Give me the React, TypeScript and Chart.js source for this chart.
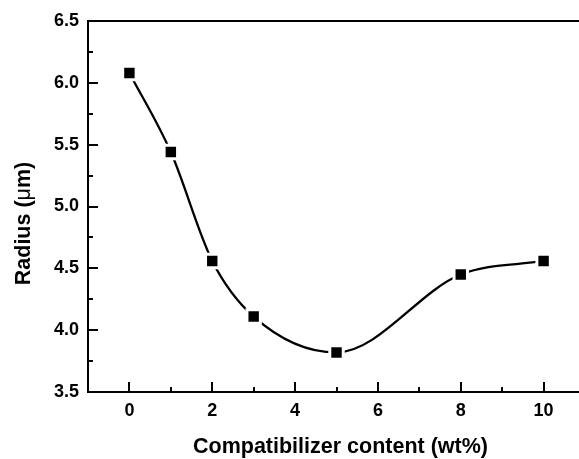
import React, { useEffect, useRef } from "react";
import { Chart, registerables } from "chart.js";

Chart.register(...registerables);

const contents = [0, 1, 2, 3, 5, 8, 10];
const radii = [6.08, 5.44, 4.56, 4.11, 3.82, 4.45, 4.56];
const xTitle = "Compatibilizer content (wt%)";
const yTitleParts = ["Radius (", "\u03bc", "m)"];

const FONT = "'Liberation Sans', Arial, Helvetica, sans-serif";

const framePlugin = {
  id: "frame",
  afterDraw(chart: any) {
    const { ctx, chartArea: a, scales } = chart;
    ctx.save();
    ctx.strokeStyle = "#000";
    ctx.lineWidth = 2;
    ctx.strokeRect(a.left, a.top, a.right - a.left, a.bottom - a.top);
    const ys = scales.y;
    ys.ticks.forEach((t: any) => {
      const v = t.value;
      if (v <= ys.min || v >= ys.max) return;
      const major = Math.abs(v * 2 - Math.round(v * 2)) < 1e-6;
      const len = major ? 10 : 5;
      const p = Math.round(ys.getPixelForValue(v));
      ctx.beginPath();
      ctx.moveTo(a.left, p);
      ctx.lineTo(a.left + len, p);
      ctx.stroke();
    });
    const xs = scales.x;
    xs.ticks.forEach((t: any) => {
      const v = t.value;
      if (v <= xs.min || v >= xs.max) return;
      const major = v % 2 === 0;
      const len = major ? 10 : 5;
      const p = Math.round(xs.getPixelForValue(v));
      ctx.beginPath();
      ctx.moveTo(p, a.bottom);
      ctx.lineTo(p, a.bottom - len);
      ctx.stroke();
    });
    // axis titles
    ctx.fillStyle = "#000";
    ctx.font = `bold 21.5px ${FONT}`;
    ctx.textAlign = "center";
    ctx.textBaseline = "alphabetic";
    ctx.fillText(xTitle, (a.left + a.right) / 2 + 4, a.bottom + 61);

    ctx.translate(a.left - 58, (a.top + a.bottom) / 2 + 17);
    ctx.rotate(-Math.PI / 2);
    const fonts = [`bold 21.5px ${FONT}`, `21.5px ${FONT}`, `bold 21.5px ${FONT}`];
    let total = 0;
    const widths = yTitleParts.map((s, i) => {
      ctx.font = fonts[i];
      const w = ctx.measureText(s).width;
      total += w;
      return w;
    });
    let x = -total / 2;
    ctx.textAlign = "left";
    yTitleParts.forEach((s, i) => {
      ctx.font = fonts[i];
      ctx.fillText(s, x, 0);
      x += widths[i];
    });
    ctx.restore();
  },
};

export default function App() {
  const ref = useRef<HTMLCanvasElement>(null);
  useEffect(() => {
    if (!ref.current) return;
    const chart = new Chart(ref.current, {
      type: "line",
      data: {
        datasets: [
          {
            data: contents.map((c, i) => ({ x: c, y: radii[i] })),
            borderColor: "#000",
            borderWidth: 2.3,
            cubicInterpolationMode: "monotone",
            pointStyle: "rect",
            pointRadius: 9.5,
            pointBackgroundColor: "#000",
            pointBorderColor: "#fff",
            pointBorderWidth: 3,
            fill: false,
          },
        ],
      },
      options: {
        animation: false,
        responsive: false,
        events: [],
        layout: { padding: { top: 21, right: 15, left: 0, bottom: 0 } },
        plugins: { legend: { display: false }, tooltip: { enabled: false } },
        scales: {
          x: {
            type: "linear",
            min: -1,
            max: 11,
            grid: { display: false, drawTicks: false },
            border: { display: false },
            afterFit: (s: any) => {
              s.height = 67;
            },
            ticks: {
              stepSize: 1,
              autoSkip: false,
              maxRotation: 0,
              padding: 8,
              color: "#000",
              font: { family: FONT, size: 18, weight: "bold" },
              callback: (v: any) => (v >= 0 && v <= 10 && v % 2 === 0 ? String(v) : ""),
            },
          },
          y: {
            min: 3.5,
            max: 6.5,
            grid: { display: false, drawTicks: false },
            border: { display: false },
            afterFit: (s: any) => {
              s.width = 88;
            },
            ticks: {
              stepSize: 0.25,
              autoSkip: false,
              padding: 9,
              color: "#000",
              font: { family: FONT, size: 18, weight: "bold" },
              callback: (v: any) =>
                Math.abs(v * 2 - Math.round(v * 2)) < 1e-6 ? Number(v).toFixed(1) : "",
            },
          },
        },
      },
      plugins: [framePlugin],
    } as any);
    return () => chart.destroy();
  }, []);
  return (
    <div
      style={{
        position: "fixed",
        left: 0,
        top: 0,
        width: 579,
        height: 459,
        overflow: "hidden",
        background: "#fff",
      }}
    >
      <canvas ref={ref} width={600} height={459} style={{ display: "block" }} />
    </div>
  );
}
